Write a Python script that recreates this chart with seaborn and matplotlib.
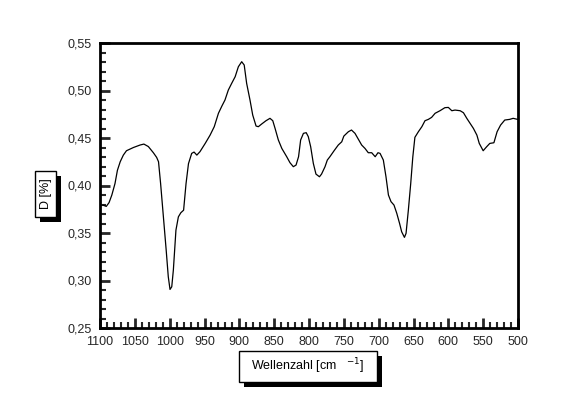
import numpy as np
import pandas as pd
import matplotlib
matplotlib.use("Agg")
import matplotlib.pyplot as plt
import matplotlib.ticker as mticker
from matplotlib.patches import Rectangle
import seaborn as sns

# Spektrum
wellenzahl = [1096, 1091, 1087, 1083, 1078.5, 1075, 1071, 1066.5, 1062, 1052, 1042.5, 1037,
              1030.6, 1023.4, 1018.7, 1016, 1013, 1009, 1005, 1002, 999.5, 997, 994.7, 991,
              987.5, 984, 980, 976.5, 973, 968.4, 965, 961, 956.5, 949, 942, 936, 930, 925,
              920.6, 915.8, 911, 906, 901.4, 896.6, 893, 889.5, 884.7, 880.8, 876, 872.7, 868,
              861.7, 856, 852, 848.7, 844, 839, 832, 827.3, 822.5, 818.6, 815, 812, 808, 804,
              801, 797.6, 793.8, 790, 785, 782, 777, 773.7, 770, 764, 758, 753, 750, 743.5,
              739, 734, 729, 724.4, 719.6, 714.9, 710, 705, 701, 698, 693.3, 689.5, 686,
              682.3, 678, 674, 670, 667, 663, 660.7, 657.4, 654, 651, 648, 643, 638, 633.5,
              628.7, 624, 619, 612, 605, 600, 595, 590.4, 583, 578.3, 573.5, 568.8, 564, 559,
              555.6, 550, 545, 540.5, 534.6, 530, 525, 519, 512, 507, 500.5]
d_wert = [0.3795, 0.378, 0.382, 0.390, 0.402, 0.416, 0.425, 0.432, 0.4366, 0.440, 0.4426, 0.4436,
          0.441, 0.4345, 0.4296, 0.425, 0.402, 0.367, 0.332, 0.304, 0.2906, 0.2934, 0.311, 0.353,
          0.367, 0.3713, 0.374, 0.402, 0.423, 0.4338, 0.4352, 0.432, 0.4356, 0.4443, 0.453, 0.4619,
          0.476, 0.4837, 0.490, 0.5005, 0.5075, 0.5145, 0.525, 0.5303, 0.5268, 0.5075, 0.490,
          0.4742, 0.4626, 0.4619, 0.4647, 0.4682, 0.4707, 0.4682, 0.4601, 0.4479, 0.439, 0.4303,
          0.424, 0.4198, 0.4215, 0.4303, 0.4479, 0.4549, 0.4556, 0.4514, 0.4408, 0.4233, 0.412,
          0.4092, 0.412, 0.4198, 0.4268, 0.4303, 0.4366, 0.4426, 0.446, 0.452, 0.4566, 0.4584,
          0.4549, 0.4486, 0.4426, 0.439, 0.4345, 0.4345, 0.4303, 0.4345, 0.4338, 0.4268, 0.4092,
          0.390, 0.383, 0.3794, 0.3707, 0.3601, 0.3513, 0.3454, 0.3496, 0.374, 0.402, 0.430,
          0.4507, 0.4566, 0.4619, 0.4682, 0.4696, 0.4717, 0.476, 0.4787, 0.4819, 0.4822, 0.4787,
          0.4794, 0.4787, 0.4766, 0.4707, 0.4654, 0.4601, 0.453, 0.4443, 0.4366, 0.4408, 0.4443,
          0.445, 0.4566, 0.4636, 0.4689, 0.4696, 0.4707, 0.4696]

x_ticks = [1100, 1050, 1000, 950, 900, 850, 800, 750, 700, 650, 600, 550, 500]
y_ticks = [0.25, 0.30, 0.35, 0.40, 0.45, 0.50, 0.55]

df = pd.DataFrame({"wellenzahl": wellenzahl, "D": d_wert})

sns.set_style("white")
plt.rcParams["font.family"] = ["Liberation Sans", "DejaVu Sans"]
plt.rcParams["font.size"] = 9

W, H = 567, 418
fig = plt.figure(figsize=(W / 100, H / 100), dpi=100)
ax = fig.add_axes([100 / W, 1 - 328 / H, 418 / W, 285 / H])

sns.lineplot(data=df, x="wellenzahl", y="D", ax=ax, color="black", linewidth=0.9,
             sort=False, estimator=None)

ax.set_xlim(1100, 500)
ax.set_ylim(0.25, 0.55)
ax.set_xticks(x_ticks)
ax.set_yticks(y_ticks)
ax.xaxis.set_minor_locator(mticker.MultipleLocator(10))
ax.yaxis.set_minor_locator(mticker.MultipleLocator(0.01))
ax.yaxis.set_major_formatter(mticker.FuncFormatter(lambda v, p: f"{v:.2f}".replace(".", ",")))
ax.xaxis.set_major_formatter(mticker.FuncFormatter(lambda v, p: f"{v:.0f}"))
ax.tick_params(which="major", direction="in", length=7, width=2, labelsize=9, pad=6,
               left=True, bottom=True, top=False, right=False)
ax.tick_params(which="minor", direction="in", length=4, width=1.5,
               left=True, bottom=True, top=False, right=False)
for s in ax.spines.values():
    s.set_linewidth(2)
    s.set_color("black")
ax.set_xlabel("")
ax.set_ylabel("")


def box_label(x0, y0, x1, y1, txt, rot=0):
    # Kasten mit Schatten, in Pixeln von oben links
    sh = 5
    fig.patches.append(Rectangle(((x0 + sh) / W, 1 - (y1 + sh) / H), (x1 - x0) / W, (y1 - y0) / H,
                                 transform=fig.transFigure, fc="black", ec="black", lw=0, zorder=1))
    fig.patches.append(Rectangle((x0 / W, 1 - y1 / H), (x1 - x0) / W, (y1 - y0) / H,
                                 transform=fig.transFigure, fc="white", ec="black", lw=1, zorder=2))
    fig.text((x0 + x1) / 2 / W, 1 - (y0 + y1) / 2 / H, txt, rotation=rot, ha="center",
             va="center", fontsize=9, color="black", zorder=3)


box_label(35, 171, 56, 217, "D [%]", rot=90)
box_label(239, 351, 377, 382, "Wellenzahl [cm   $^{-1}$]")

fig.savefig("out.png", dpi=100)
